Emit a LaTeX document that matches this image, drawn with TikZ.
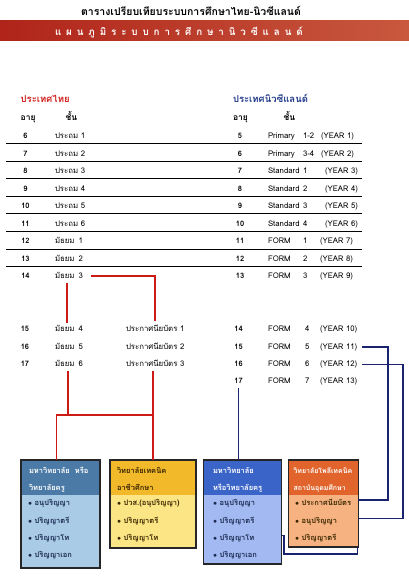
\documentclass[tikz,border=0pt]{standalone}
\usepackage{fontspec}
\setmainfont{Loma}[Script=Thai]
\usetikzlibrary{calc}
\definecolor{redc}{HTML}{CC1A14}
\definecolor{bluec}{HTML}{1A2370}
\definecolor{bannerL}{HTML}{B0241A}
\definecolor{bannerR}{HTML}{C8583E}
\definecolor{thred}{HTML}{D0201A}
\definecolor{nzblue}{HTML}{1F3A8A}
\definecolor{bAhead}{HTML}{4A7AA5}
\definecolor{bAbody}{HTML}{A9CBE6}
\definecolor{bBhead}{HTML}{F2B92A}
\definecolor{bBbody}{HTML}{FCE585}
\definecolor{bChead}{HTML}{3B64C9}
\definecolor{bCbody}{HTML}{A3B9F2}
\definecolor{bDhead}{HTML}{E0642C}
\definecolor{bDbody}{HTML}{F6B381}
\definecolor{navytxt}{HTML}{1A2A50}
\definecolor{browntxt}{HTML}{3A2600}
\begin{document}
\begin{tikzpicture}[x=1pt,y=-1pt,
  every node/.style={inner sep=0pt,outer sep=0pt},
  rowtxt/.style={font=\fontsize{7.8}{9}\selectfont,anchor=base west},
  agetxt/.style={font=\bfseries\fontsize{7.5}{9}\selectfont,anchor=base},
  headtxt/.style={font=\bfseries\fontsize{9.5}{11}\selectfont,anchor=base west},
  colhead/.style={font=\bfseries\fontsize{8.5}{10}\selectfont,anchor=base},
  rule/.style={line width=1pt,black},
  redconn/.style={draw=redc,line width=1.5pt},
  blueconn/.style={draw=bluec,line width=1.4pt},
  boxframe/.style={draw=black!85,line width=1.6pt,rectangle,anchor=north west},
  boxtxt/.style={font=\bfseries\fontsize{7.5}{8.5}\selectfont,anchor=base west}]
\useasboundingbox (0,0) rectangle (409,578);
% title and banner
\node[font=\bfseries\fontsize{10.5}{12}\selectfont,anchor=base] (title) at (191,16) {ตารางเปรียบเทียบระบบการศึกษาไทย-นิวซีแลนด์};
\shade[left color=bannerL,right color=bannerR] (0,20.7) rectangle (409,40.7);
\node[font=\bfseries\fontsize{9.8}{11}\selectfont,text=white,anchor=base west] (banner) at (55,35.2)
  {\spaceskip=4.9pt\relax แ ผ น ภู มิ ร ะ บ บ ก า ร ศึ ก ษ า นิ ว ซี แ ล น ด์};
% headers
\node[headtxt,text=thred] (thhead) at (20.7,102.5) {ประเทศไทย};
\node[colhead,anchor=base west] (thage) at (20.7,120.5) {อายุ};
\node[colhead] (thcls) at (71.5,120.5) {ชั้น};
\node[headtxt,text=nzblue] (nzhead) at (233,102.5) {ประเทศนิวซีแลนด์};
\node[colhead,anchor=base west] (nzage) at (233,120.5) {อายุ};
\node[colhead] (nzcls) at (289.5,120.5) {ชั้น};
% table rules
\foreach \k in {0,...,7}
  \draw[rule] (6,143.5+17.6*\k) -- (362,143.5+17.6*\k);
% Thai upper rows
\foreach \a/\c [count=\i from 0] in {6/ประถม 1,7/ประถม 2,8/ประถม 3,9/ประถม 4,10/ประถม 5,11/ประถม 6,12/มัธยม\enspace 1,13/มัธยม\enspace 2,14/มัธยม\enspace 3}{
  \node[agetxt] (ta\i) at (25.5,138.5+17.5*\i) {\a};
  \node[rowtxt] (tc\i) at (55,138.5+17.5*\i) {\c};
}
% Thai lower rows
\foreach \a/\c/\p [count=\i from 0] in {15/4/1,16/5/2,17/6/3}{
  \node[agetxt] (tla\i) at (25,331.8+17.3*\i) {\a};
  \node[rowtxt] (tlc\i) at (55,331.8+17.3*\i) {มัธยม\enspace \c};
  \node[rowtxt] (tlp\i) at (126,331.8+17.3*\i) {ประกาศนียบัตร \p};
}
% NZ upper rows
\foreach \a/\w/\n/\yr/\yx [count=\i from 0] in {5/Primary/1-2/{(YEAR 1)}/321,6/Primary/3-4/{(YEAR 2)}/321,7/Standard/1/{(YEAR 3)}/325,8/Standard/2/{(YEAR 4)}/325,9/Standard/3/{(YEAR 5)}/325,10/Standard/4/{(YEAR 6)}/325,11/FORM/1/{(YEAR 7)}/320,12/FORM/2/{(YEAR 8)}/320,13/FORM/3/{(YEAR 9)}/320}{
  \node[agetxt] (na\i) at (240,138.5+17.5*\i) {\a};
  \node[rowtxt] (nw\i) at (268,138.5+17.5*\i) {\w};
  \node[rowtxt] (nn\i) at (303,138.5+17.5*\i) {\n};
  \node[rowtxt] (ny\i) at (\yx,138.5+17.5*\i) {\yr};
}
% NZ lower rows
\foreach \a/\n/\yr [count=\i from 0] in {14/4/{(YEAR 10)},15/5/{(YEAR 11)},16/6/{(YEAR 12)},17/7/{(YEAR 13)}}{
  \node[agetxt] (nla\i) at (238.5,331.8+17.3*\i) {\a};
  \node[rowtxt] (nlw\i) at (268,331.8+17.3*\i) {FORM};
  \node[rowtxt] (nln\i) at (305,331.8+17.3*\i) {\n};
  \node[rowtxt] (nly\i) at (320,331.8+17.3*\i) {\yr};
}
% boxes
\node[boxframe,minimum width=79.3pt,minimum height=107.7pt,fill=bAbody,
  path picture={\fill[bAhead] (path picture bounding box.north west) rectangle ([yshift=-35pt]path picture bounding box.north east);}] (b1) at (20.7,460) {};
\node[boxframe,minimum width=86pt,minimum height=88pt,fill=bBbody,
  path picture={\fill[bBhead] (path picture bounding box.north west) rectangle ([yshift=-35pt]path picture bounding box.north east);}] (b2) at (110,460) {};
\node[boxframe,minimum width=78.2pt,minimum height=104pt,fill=bCbody,
  path picture={\fill[bChead] (path picture bounding box.north west) rectangle ([yshift=-35pt]path picture bounding box.north east);}] (b3) at (203.3,460) {};
\node[boxframe,minimum width=70pt,minimum height=87pt,fill=bDbody,
  path picture={\fill[bDhead] (path picture bounding box.north west) rectangle ([yshift=-35pt]path picture bounding box.north east);}] (b4) at (288.3,460) {};
% box texts
\node[boxtxt,text=white] (b1h1) at (29,473) {มหาวิทยาลัย\hspace{5pt}หรือ};
\node[boxtxt,text=white] (b1h2) at (29,490.5) {วิทยาลัยครู};
\foreach \t [count=\i] in {อนุปริญญา,ปริญญาตรี,ปริญญาโท,ปริญญาเอก}
  \node[boxtxt,text=navytxt] (b1i\i) at (28,505.8+17.2*\i-17.2) {$\bullet$\ \t};
\node[boxtxt,text=browntxt] (b2h1) at (117,473) {วิทยาลัยเทคนิค};
\node[boxtxt,text=browntxt] (b2h2) at (117,490.5) {อาชีวศึกษา};
\foreach \t [count=\i] in {ปวส.(อนุปริญญา),ปริญญาตรี,ปริญญาโท}
  \node[boxtxt,text=browntxt] (b2i\i) at (117,505.8+17.2*\i-17.2) {$\bullet$\ \t};
\node[boxtxt,text=white] (b3h1) at (213,473) {มหาวิทยาลัย};
\node[boxtxt,text=white] (b3h2) at (213,490.5) {หรือวิทยาลัยครู};
\foreach \t [count=\i] in {อนุปริญญา,ปริญญาตรี,ปริญญาโท,ปริญญาเอก}
  \node[boxtxt,text=navytxt] (b3i\i) at (213,505.8+17.2*\i-17.2) {$\bullet$\ \t};
\node[boxtxt,text=white,font=\bfseries\fontsize{7}{8.5}\selectfont] (b4h1) at (293.5,473) {วิทยาลัยโพลีเทคนิค};
\node[boxtxt,text=white,font=\bfseries\fontsize{7}{8.5}\selectfont] (b4h2) at (293.5,490.5) {สถาบันอุดมศึกษา};
\foreach \t [count=\i] in {ประกาศนียบัตร,อนุปริญญา,ปริญญาตรี}
  \node[boxtxt,text=browntxt] (b4i\i) at (295,505.8+17.2*\i-17.2) {$\bullet$\ \t};
% red connectors
\coordinate (jm) at (68,415);
\coordinate (m3r) at (95,276);
\draw[redconn] (tc8.east |- m3r) ++(8,0) -| ([yshift=4pt]tlp0.north);
\draw[redconn] ([xshift=12pt,yshift=-4pt]tc8.south west) -- ([xshift=12pt,yshift=3pt]tlc0.north west);
\draw[redconn] ([xshift=13pt,yshift=-5pt]tlc2.south west) -- (jm);
\draw[redconn] ([xshift=-4pt]b1.north) |- (jm -| b2.north);
\draw[redconn] ([yshift=-5pt]tlp2.south -| b2.north) -- (b2.north);
% blue connectors
\coordinate (rA) at (388,0);
\coordinate (rB) at (403,0);
\coordinate (rC) at (284,554);
\draw[blueconn] ([yshift=-4pt]nla3.south) -- (nla3.south |- b3.north);
\draw[blueconn,shorten <=5pt] (nly1.east) -- (nly1.east -| rA) |- ([yshift=2.5pt]b4i1.west -| b4.east);
\draw[blueconn,shorten <=5pt] (nly2.east) -- (nly2.east -| rB) |- ([yshift=2.5pt]b4i2.west -| b4.east);
\draw[blueconn] ([yshift=2.5pt]b3i3.west -| b3.east) -| (rC) -| ([xshift=-1pt]b4.south east);
\end{tikzpicture}
\end{document}
